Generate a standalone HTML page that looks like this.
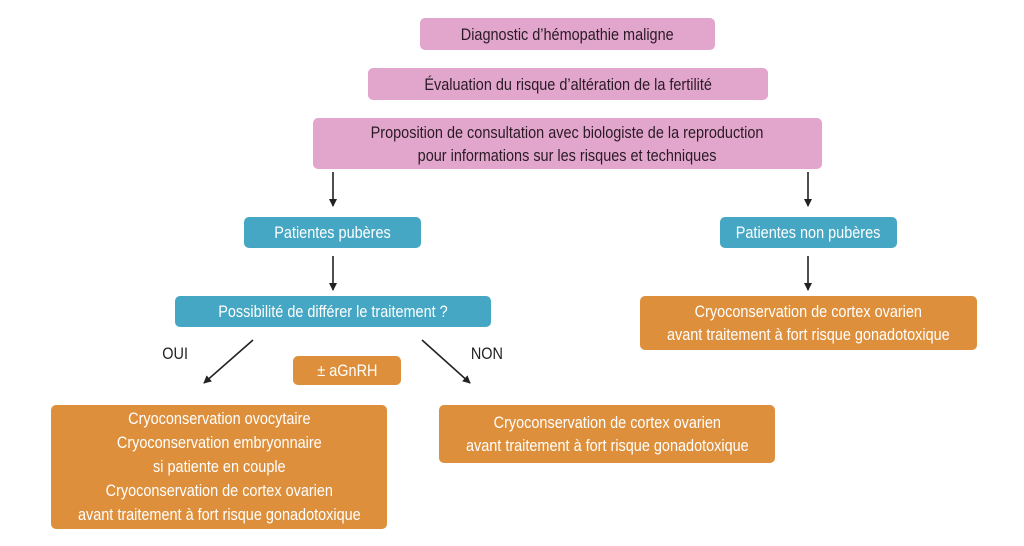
<!DOCTYPE html>
<html><head><meta charset="utf-8"><style>
body{margin:0;width:1024px;height:546px;background:#fff;position:relative;overflow:hidden;font-family:"Liberation Sans",sans-serif;}
.b{position:absolute;display:flex;align-items:center;justify-content:center;text-align:center;border-radius:5px;font-size:17px;line-height:23px;}
.b span,.t span{display:inline-block;transform:scaleX(0.85);white-space:nowrap;}
.p{background:#e2a6cd;color:#2a1a25;}
.c{background:#45a7c3;color:#fff;}
.o{background:#de8f3b;color:#fff;}
.t{position:absolute;font-size:17px;color:#222;}
</style></head><body>
<div class="b p" style="left:420px;top:18px;width:295px;height:32px"><span>Diagnostic d’hémopathie maligne</span></div>
<div class="b p" style="left:368px;top:68px;width:400px;height:32px"><span>Évaluation du risque d’altération de la fertilité</span></div>
<div class="b p" style="left:313px;top:118px;width:509px;height:51px"><span>Proposition de consultation avec biologiste de la reproduction<br>pour informations sur les risques et techniques</span></div>
<div class="b c" style="left:244px;top:217px;width:177px;height:31px"><span>Patientes pubères</span></div>
<div class="b c" style="left:720px;top:217px;width:177px;height:31px"><span>Patientes non pubères</span></div>
<div class="b c" style="left:175px;top:296px;width:316px;height:31px"><span>Possibilité de différer le traitement ?</span></div>
<div class="b o" style="left:640px;top:296px;width:337px;height:54px"><span>Cryoconservation de cortex ovarien<br>avant traitement à fort risque gonadotoxique</span></div>
<div class="b o" style="left:293px;top:356px;width:108px;height:29px"><span>± aGnRH</span></div>
<div class="b o" style="left:51px;top:405px;width:336px;height:124px;line-height:24px"><span>Cryoconservation ovocytaire<br>Cryoconservation embryonnaire<br>si patiente en couple<br>Cryoconservation de cortex ovarien<br>avant traitement à fort risque gonadotoxique</span></div>
<div class="b o" style="left:439px;top:405px;width:336px;height:58px"><span>Cryoconservation de cortex ovarien<br>avant traitement à fort risque gonadotoxique</span></div>
<div class="t" style="left:160px;top:344px"><span>OUI</span></div>
<div class="t" style="left:468px;top:344px"><span>NON</span></div>
<svg width="1024" height="546" style="position:absolute;left:0;top:0">
<defs><marker id="a" markerWidth="8" markerHeight="8" refX="7" refY="4" orient="auto" markerUnits="userSpaceOnUse"><path d="M0,0 L8,4 L0,8 z" fill="#222"/></marker></defs>
<g stroke="#222" stroke-width="1.6" marker-end="url(#a)">
<line x1="333" y1="172" x2="333" y2="206"/>
<line x1="808" y1="172" x2="808" y2="206"/>
<line x1="333" y1="256" x2="333" y2="290"/>
<line x1="808" y1="256" x2="808" y2="290"/>
<line x1="253" y1="340" x2="204" y2="383"/>
<line x1="422" y1="340" x2="470" y2="383"/>
</g></svg>
</body></html>
